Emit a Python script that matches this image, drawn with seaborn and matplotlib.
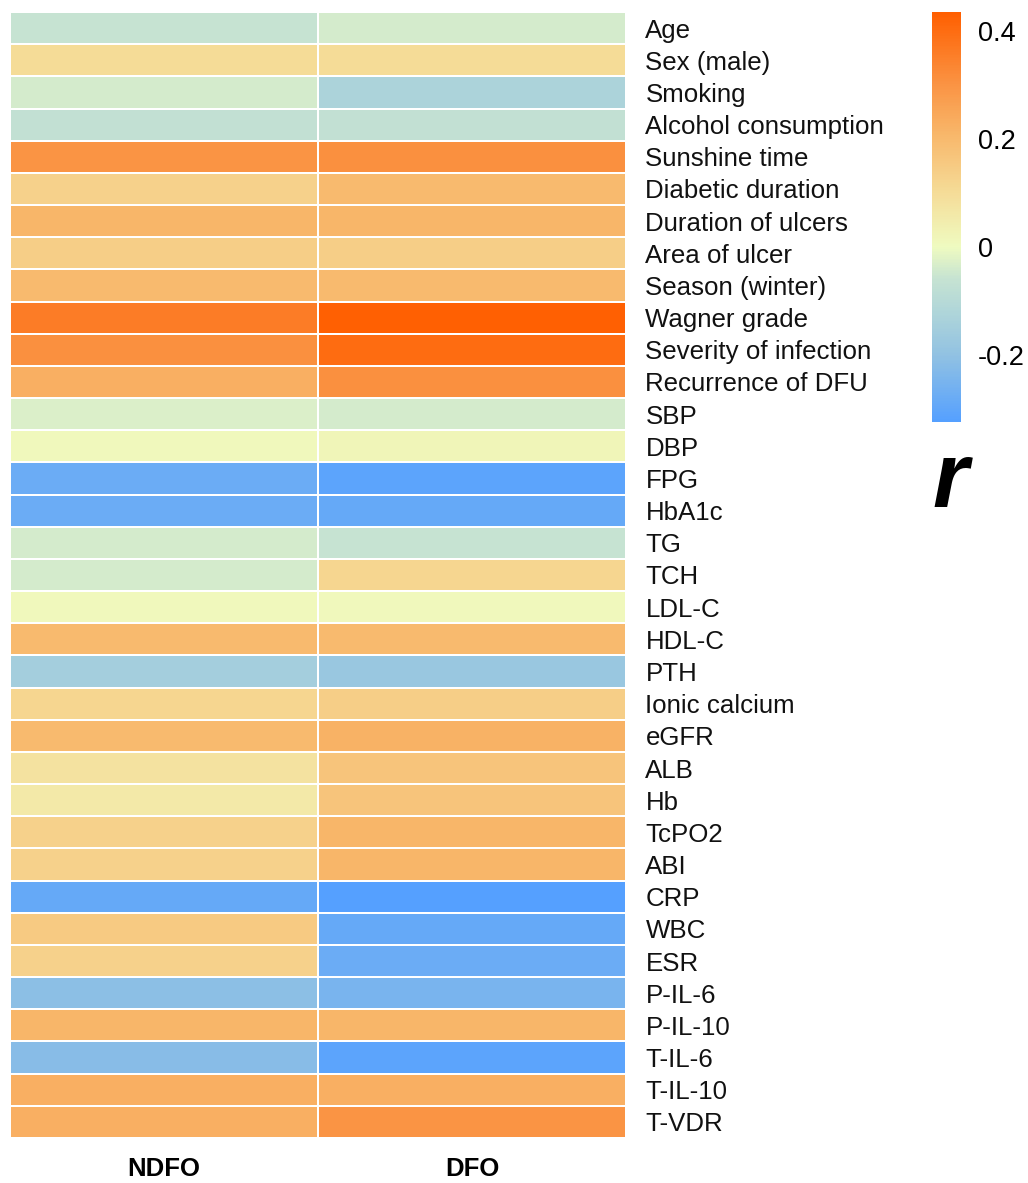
import numpy as np
import pandas as pd
import seaborn as sns
import matplotlib
matplotlib.use("Agg")
import matplotlib.pyplot as plt
from matplotlib.colors import LinearSegmentedColormap

variables = ["Age", "Sex (male)", "Smoking", "Alcohol consumption", "Sunshine time",
             "Diabetic duration", "Duration of ulcers", "Area of ulcer", "Season (winter)",
             "Wagner grade", "Severity of infection", "Recurrence of DFU", "SBP", "DBP",
             "FPG", "HbA1c", "TG", "TCH", "LDL-C", "HDL-C", "PTH", "Ionic calcium", "eGFR",
             "ALB", "Hb", "TcPO2", "ABI", "CRP", "WBC", "ESR", "P-IL-6", "P-IL-10",
             "T-IL-6", "T-IL-10", "T-VDR"]
groups = ["NDFO", "DFO"]
ndfo = [-0.06, 0.10, -0.04, -0.07, 0.30, 0.13, 0.21, 0.14, 0.20, 0.36, 0.31, 0.23,
        -0.03, 0.01, -0.28, -0.28, -0.04, -0.04, 0.01, 0.20, -0.15, 0.12, 0.20,
        0.08, 0.06, 0.13, 0.13, -0.29, 0.15, 0.13, -0.21, 0.21, -0.22, 0.23, 0.23]
dfo = [-0.04, 0.10, -0.13, -0.07, 0.31, 0.20, 0.21, 0.14, 0.20, 0.43, 0.40, 0.31,
       -0.04, 0.02, -0.31, -0.29, -0.06, 0.12, 0.01, 0.20, -0.18, 0.14, 0.22,
       0.17, 0.17, 0.21, 0.21, -0.325, -0.29, -0.28, -0.25, 0.21, -0.31, 0.23, 0.30]
cbar_ticks = [-0.2, 0, 0.2, 0.4]
cbar_ticklabels = ["-0.2", "0", "0.2", "0.4"]

vmin, vmax = -0.325, 0.435
anchors = [(-0.325, "#55A0FF"), (-0.2, "#92C2E2"), (-0.12, "#B0D6D9"), (-0.06, "#C6E3D2"),
           (0.0, "#EFFBC0"), (0.1, "#F5DC98"), (0.2, "#F8BA6E"), (0.3, "#FA9444"),
           (0.435, "#FF5F00")]
cmap = LinearSegmentedColormap.from_list(
    "r_cmap", [((v - vmin) / (vmax - vmin), c) for v, c in anchors])

df = pd.DataFrame({"NDFO": ndfo, "DFO": dfo}, index=variables)[groups]

plt.rcParams['font.family'] = ['Liberation Sans', 'DejaVu Sans']
fig = plt.figure(figsize=(10.28, 11.83), dpi=100)
W, H = 1028, 1183
ax = fig.add_axes([10 / W, 1 - 1138 / H, 616 / W, 1126 / H])
cax = fig.add_axes([932 / W, 1 - 422 / H, 29 / W, 410 / H])

sns.heatmap(df, ax=ax, cmap=cmap, vmin=vmin, vmax=vmax, linewidths=1.2,
            linecolor="white", cbar_ax=cax, cbar_kws={"ticks": cbar_ticks})

ax.yaxis.tick_right()
ax.set_yticks(np.arange(len(variables)) + 0.5)
ax.set_yticklabels(variables, rotation=0, fontsize=18.6, color="#111111")
ax.set_xticks(np.arange(len(groups)) + 0.5)
ax.set_xticklabels(groups, fontsize=18.5, fontweight="bold")
ax.tick_params(axis="both", length=0)
ax.tick_params(axis="y", pad=14)
ax.tick_params(axis="x", pad=14)
ax.set_xlabel("")
ax.set_ylabel("")

cbar = ax.collections[0].colorbar
cbar.set_ticks(cbar_ticks)
cbar.set_ticklabels(cbar_ticklabels)
cbar.ax.tick_params(length=0, labelsize=19.5, pad=12)
cbar.outline.set_visible(False)

fig.text(950 / W, 1 - 483 / H, "r", fontsize=66, fontweight="bold", fontstyle="italic",
         ha="center", va="center")

fig.savefig("out.png", dpi=100, facecolor="white")
